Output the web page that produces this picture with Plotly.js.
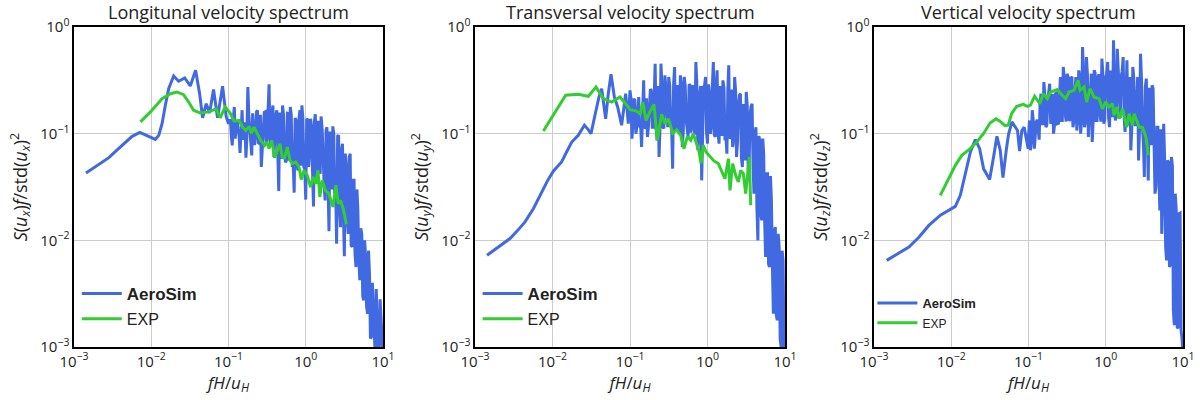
<!DOCTYPE html>
<html>
<head>
<meta charset="utf-8">
<script src="https://cdn.plot.ly/plotly-3.0.1.min.js"></script>
<style>html,body{margin:0;padding:0;background:#fff;}#chart{width:1200px;height:400px;}</style>
</head>
<body>
<div id="chart"></div>
<script>
// ---------- data ----------
const panelTitles = ['Longitunal velocity spectrum', 'Transversal velocity spectrum', 'Vertical velocity spectrum'];
const tickVals = [0.001, 0.01, 0.1, 1, 10];
const tickTextX = ['10<sup>\u22123</sup>', '10<sup>\u22122</sup>', '10<sup>\u22121</sup>', '10<sup>0</sup>', '10<sup>1</sup>'];
const tickValsY = [0.001, 0.01, 0.1, 1];
const tickTextY = ['10<sup>\u22123</sup>', '10<sup>\u22122</sup>', '10<sup>\u22121</sup>', '10<sup>0</sup>'];
const seriesNames = ['<b>AeroSim</b>', 'EXP'];

// frequency bins of the high-frequency (noisy) part, shared by the three spectra
const fGrid = [0.1, 0.106, 0.112, 0.119, 0.126, 0.133, 0.141, 0.150, 0.158, 0.168,
  0.178, 0.188, 0.200, 0.211, 0.224, 0.237, 0.251, 0.266, 0.282, 0.299,
  0.316, 0.335, 0.355, 0.376, 0.398, 0.422, 0.447, 0.473, 0.501, 0.531,
  0.562, 0.596, 0.631, 0.668, 0.708, 0.750, 0.794, 0.841, 0.891, 0.944,
  1.0, 1.06, 1.12, 1.19, 1.26, 1.33, 1.41, 1.50, 1.58, 1.68,
  1.78, 1.88, 2.00, 2.11, 2.24, 2.37, 2.51, 2.66, 2.82, 2.99,
  3.16, 3.35, 3.55, 3.76, 3.98, 4.22, 4.47, 4.73, 5.01, 5.31,
  5.62, 5.96, 6.31, 6.68, 7.08, 7.50, 7.94, 8.41, 8.91, 9.44, 10.0];
// in-between bins
const fGridMid = [0.1029, 0.1090, 0.1155, 0.1223, 0.1296, 0.1373, 0.1454, 0.1540, 0.1631, 0.1728,
  0.1831, 0.1939, 0.2054, 0.2176, 0.2305, 0.2442, 0.2587, 0.2738, 0.2901, 0.3073,
  0.3255, 0.3449, 0.3652, 0.3870, 0.4100, 0.4341, 0.4600, 0.4870, 0.5160, 0.5465,
  0.5790, 0.6130, 0.6494, 0.6880, 0.7290, 0.7720, 0.8180, 0.8660, 0.9173, 0.9716,
  1.029, 1.090, 1.155, 1.223, 1.296, 1.373, 1.454, 1.540, 1.631, 1.728,
  1.831, 1.939, 2.054, 2.176, 2.305, 2.442, 2.587, 2.738, 2.901, 3.073,
  3.255, 3.449, 3.652, 3.870, 4.100, 4.341, 4.600, 4.870, 5.160, 5.465,
  5.790, 6.130, 6.494, 6.880, 7.290, 7.720, 8.180, 8.660, 9.173, 9.716];

// Longitudinal
const longLowF = [0.00143, 0.0020, 0.00283, 0.00356, 0.00442, 0.00566, 0.00711, 0.00884, 0.0113, 0.0125,
  0.0138, 0.0152, 0.0168, 0.0195, 0.0226, 0.0271, 0.0320, 0.0375, 0.0423, 0.0462,
  0.0515, 0.0569, 0.0640, 0.0721, 0.0838, 0.0933];
const longLowS = [0.0428, 0.0505, 0.0596, 0.0698, 0.0806, 0.0944, 0.103, 0.0964, 0.0885, 0.0964,
  0.124, 0.184, 0.264, 0.347, 0.310, 0.333, 0.280, 0.393, 0.237, 0.141,
  0.191, 0.156, 0.259, 0.141, 0.278, 0.145];
const longGridS = [0.124, 0.133, 0.0777, 0.178, 0.124, 0.115, 0.0659, 0.166, 0.0931, 0.0596,
  0.274, 0.115, 0.0626, 0.115, 0.0931, 0.166, 0.0806, 0.0487, 0.115, 0.160,
  0.0931, 0.290, 0.0835, 0.184, 0.115, 0.166, 0.0290, 0.133, 0.184, 0.0649,
  0.0562, 0.154, 0.178, 0.0487, 0.0280, 0.133, 0.0453, 0.166, 0.184, 0.0487,
  0.0241, 0.138, 0.0649, 0.115, 0.0208, 0.152, 0.0340, 0.100, 0.145, 0.0487,
  0.0237, 0.115, 0.0122, 0.0806, 0.117, 0.0274, 0.0093, 0.0965, 0.0133, 0.0806,
  0.00708, 0.0487, 0.0115, 0.0649, 0.00866, 0.0365, 0.00562, 0.0191, 0.00422, 0.0115,
  0.00274, 0.00698, 0.00205, 0.00487, 0.00124, 0.00191, 0.00081, 0.00178, 0.00081, 0.00166, 0.0008];
const longMidS = [0.133, 0.0931, 0.140, 0.0900, 0.130, 0.0950, 0.135, 0.0880, 0.128, 0.0900,
  0.150, 0.0806, 0.155, 0.0780, 0.160, 0.0820, 0.150, 0.0760, 0.158, 0.0800,
  0.152, 0.0780, 0.155, 0.0600, 0.150, 0.0562, 0.158, 0.0580, 0.150, 0.0540,
  0.155, 0.0562, 0.150, 0.0520, 0.140, 0.0487, 0.138, 0.0500, 0.142, 0.0470,
  0.135, 0.0487, 0.138, 0.0460, 0.130, 0.0450, 0.132, 0.0420, 0.110, 0.0340,
  0.107, 0.0316, 0.105, 0.0300, 0.100, 0.0290, 0.095, 0.0200, 0.0700, 0.0178,
  0.0650, 0.0160, 0.0600, 0.0090, 0.0365, 0.0075, 0.0300, 0.0065, 0.0130, 0.0030,
  0.0100, 0.0024, 0.0080, 0.0012, 0.0040, 0.0009, 0.0035, 0.0008, 0.0028, 0.0008];
const longExpF = [0.00724, 0.00975, 0.0138, 0.0177, 0.0215, 0.0262, 0.0305, 0.0353, 0.0431, 0.0552,
  0.0693, 0.078, 0.0905, 0.105, 0.118, 0.137, 0.152, 0.167, 0.185, 0.198,
  0.214, 0.237, 0.261, 0.294, 0.313, 0.335, 0.362, 0.396, 0.429, 0.464,
  0.497, 0.533, 0.577, 0.625, 0.670, 0.740, 0.817, 0.875, 0.947, 1.045,
  1.154, 1.25, 1.34, 1.44, 1.52, 1.63, 1.80, 1.99, 2.26, 2.45,
  2.63, 2.82, 3.05, 3.36];
const longExpS = [0.129, 0.160, 0.213, 0.237, 0.246, 0.232, 0.198, 0.166, 0.156, 0.160,
  0.171, 0.141, 0.178, 0.156, 0.131, 0.133, 0.115, 0.107, 0.117, 0.101,
  0.115, 0.101, 0.0866, 0.0777, 0.0835, 0.0724, 0.0866, 0.0596, 0.0698, 0.0806,
  0.0604, 0.0596, 0.075, 0.0562, 0.0524, 0.0543, 0.0487, 0.0371, 0.0453, 0.0407,
  0.0316, 0.0393, 0.0340, 0.0453, 0.0255, 0.0365, 0.0294, 0.0274, 0.0205, 0.0328,
  0.0221, 0.0237, 0.0198, 0.0141];

// Transversal
const transLowF = [0.00143, 0.0020, 0.00283, 0.00356, 0.00442, 0.00566, 0.00711, 0.00867, 0.0103, 0.0131,
  0.0152, 0.0177, 0.0215, 0.0258, 0.0284, 0.0314, 0.0353, 0.0398, 0.0431, 0.0485,
  0.0525, 0.0569, 0.0628, 0.0693, 0.078, 0.0879, 0.0951];
const transLowS = [0.00724, 0.00866, 0.0104, 0.0124, 0.0149, 0.0198, 0.0274, 0.0365, 0.0447, 0.0543,
  0.0673, 0.0835, 0.0965, 0.120, 0.111, 0.100, 0.149, 0.221, 0.264, 0.138,
  0.237, 0.360, 0.221, 0.178, 0.120, 0.237, 0.124];
const transGridS = [0.255, 0.0898, 0.213, 0.100, 0.191, 0.115, 0.075, 0.316, 0.115, 0.0931,
  0.178, 0.255, 0.115, 0.453, 0.0866, 0.0604, 0.453, 0.115, 0.352, 0.133,
  0.340, 0.124, 0.0470, 0.422, 0.154, 0.115, 0.352, 0.075, 0.340, 0.133,
  0.0931, 0.284, 0.154, 0.115, 0.470, 0.0698, 0.237, 0.0365, 0.274, 0.340,
  0.0806, 0.237, 0.115, 0.470, 0.0931, 0.392, 0.0806, 0.237, 0.316, 0.0866,
  0.0649, 0.437, 0.0931, 0.075, 0.340, 0.0604, 0.191, 0.237, 0.0487, 0.166,
  0.246, 0.0453, 0.154, 0.191, 0.0274, 0.115, 0.0100, 0.0866, 0.0154, 0.0649,
  0.00698, 0.0422, 0.00562, 0.0237, 0.00205, 0.0133, 0.00178, 0.00866, 0.00100, 0.00649, 0.00081];
const transMidS = [0.213, 0.120, 0.205, 0.115, 0.220, 0.118, 0.210, 0.112, 0.215, 0.115,
  0.260, 0.115, 0.270, 0.110, 0.280, 0.115, 0.270, 0.112, 0.275, 0.115,
  0.280, 0.110, 0.290, 0.105, 0.285, 0.100, 0.290, 0.105, 0.280, 0.100,
  0.290, 0.102, 0.285, 0.098, 0.290, 0.100, 0.280, 0.100, 0.285, 0.105,
  0.290, 0.100, 0.280, 0.098, 0.285, 0.100, 0.280, 0.095, 0.270, 0.095,
  0.265, 0.090, 0.260, 0.088, 0.250, 0.085, 0.230, 0.0600, 0.190, 0.0562,
  0.185, 0.0540, 0.180, 0.0500, 0.100, 0.0200, 0.095, 0.0178, 0.090, 0.0150,
  0.0422, 0.0060, 0.0400, 0.0056, 0.0120, 0.0020, 0.0115, 0.0012, 0.0080, 0.0009];
const transExpF = [0.00762, 0.0108, 0.0148, 0.0215, 0.0290, 0.0364, 0.0453, 0.0580, 0.0743, 0.0951,
  0.1, 0.122, 0.135, 0.146, 0.161, 0.181, 0.204, 0.225, 0.256, 0.283,
  0.313, 0.356, 0.400, 0.451, 0.498, 0.550, 0.607, 0.656, 0.724, 0.776,
  0.824, 0.883, 0.957, 1.08, 1.21, 1.38, 1.52, 1.68, 1.86, 1.95,
  2.11, 2.33, 2.50, 2.68, 2.90, 3.11, 3.47, 3.61];
const transExpS = [0.106, 0.160, 0.229, 0.234, 0.224, 0.274, 0.213, 0.198, 0.221, 0.178,
  0.168, 0.163, 0.152, 0.198, 0.133, 0.160, 0.188, 0.0866, 0.152, 0.124,
  0.138, 0.101, 0.109, 0.0965, 0.0724, 0.0944, 0.0866, 0.100, 0.0806, 0.0688,
  0.0524, 0.0777, 0.0673, 0.0604, 0.0555, 0.0524, 0.0453, 0.0378, 0.0583, 0.0294,
  0.0524, 0.0398, 0.0352, 0.0453, 0.0422, 0.0274, 0.0604, 0.0213];

// Vertical
const vertLowF = [0.00146, 0.0020, 0.00283, 0.00381, 0.00513, 0.00724, 0.00929, 0.0113, 0.0131, 0.0152,
  0.0177, 0.0205, 0.0233, 0.0262, 0.0314, 0.0353, 0.0390, 0.0431, 0.0467, 0.0515,
  0.0552, 0.0610, 0.0673, 0.0721, 0.0766, 0.082, 0.0879, 0.0933, 0.099];
const vertLowS = [0.00649, 0.0075, 0.00866, 0.0107, 0.0138, 0.0172, 0.0191, 0.0208, 0.0264, 0.0407,
  0.0673, 0.0879, 0.0723, 0.0470, 0.0371, 0.0604, 0.0944, 0.0698, 0.0387, 0.0698,
  0.0986, 0.129, 0.115, 0.107, 0.0688, 0.107, 0.115, 0.0931, 0.0724];
const vertGridS = [0.0931, 0.0698, 0.166, 0.0724, 0.129, 0.115, 0.191, 0.124, 0.305, 0.115,
  0.205, 0.294, 0.133, 0.100, 0.237, 0.124, 0.205, 0.133, 0.422, 0.154,
  0.365, 0.133, 0.340, 0.115, 0.237, 0.107, 0.392, 0.100, 0.649, 0.115,
  0.523, 0.0931, 0.237, 0.0835, 0.392, 0.133, 0.340, 0.154, 0.505, 0.124,
  0.340, 0.470, 0.115, 0.274, 0.750, 0.133, 0.626, 0.166, 0.340, 0.523,
  0.104, 0.487, 0.133, 0.0698, 0.422, 0.124, 0.237, 0.0562, 0.562, 0.115,
  0.0393, 0.328, 0.0365, 0.237, 0.284, 0.0453, 0.0316, 0.115, 0.0191, 0.0115,
  0.124, 0.00866, 0.0562, 0.00562, 0.0604, 0.00221, 0.0274, 0.00154, 0.0178, 0.00143, 0.00081];
const vertMidS = [0.133, 0.087, 0.130, 0.090, 0.135, 0.088, 0.237, 0.124, 0.230, 0.120,
  0.240, 0.124, 0.235, 0.122, 0.240, 0.125, 0.340, 0.133, 0.330, 0.130,
  0.340, 0.135, 0.335, 0.130, 0.340, 0.133, 0.345, 0.133, 0.365, 0.130,
  0.360, 0.133, 0.365, 0.135, 0.370, 0.133, 0.360, 0.130, 0.365, 0.135,
  0.365, 0.140, 0.390, 0.143, 0.380, 0.145, 0.390, 0.140, 0.385, 0.143,
  0.390, 0.120, 0.340, 0.115, 0.335, 0.118, 0.340, 0.112, 0.330, 0.0806,
  0.274, 0.0800, 0.270, 0.0780, 0.265, 0.0274, 0.115, 0.0270, 0.110, 0.0260,
  0.0562, 0.0065, 0.0540, 0.0060, 0.0500, 0.0016, 0.0191, 0.0015, 0.0180, 0.0012];
const vertExpF = [0.00721, 0.00925, 0.0113, 0.0137, 0.0176, 0.0214, 0.0261, 0.0318, 0.0379, 0.0427,
  0.0495, 0.0547, 0.0604, 0.070, 0.0853, 0.097, 0.106, 0.120, 0.140, 0.155,
  0.175, 0.193, 0.236, 0.274, 0.303, 0.334, 0.388, 0.438, 0.465, 0.524,
  0.567, 0.626, 0.705, 0.819, 0.906, 1.0, 1.10, 1.22, 1.28, 1.39,
  1.49, 1.65, 1.87, 2.01, 2.22, 2.33, 2.71, 2.99, 3.31, 3.55];
const vertExpS = [0.0264, 0.0378, 0.0505, 0.0626, 0.0724, 0.0835, 0.100, 0.126, 0.138, 0.131,
  0.119, 0.120, 0.154, 0.180, 0.188, 0.180, 0.185, 0.224, 0.191, 0.237,
  0.213, 0.246, 0.259, 0.229, 0.213, 0.246, 0.255, 0.316, 0.255, 0.274,
  0.198, 0.264, 0.221, 0.213, 0.171, 0.198, 0.178, 0.191, 0.149, 0.178,
  0.138, 0.171, 0.115, 0.154, 0.120, 0.154, 0.115, 0.115, 0.0931, 0.0626];

// ---------- figure ----------
const BLUE = '#4169e1', GREEN = '#32cd32';
const panels = [
  {lowF: longLowF, lowS: longLowS, gridS: longGridS, midS: longMidS, expF: longExpF, expS: longExpS, sub: 'x'},
  {lowF: transLowF, lowS: transLowS, gridS: transGridS, midS: transMidS, expF: transExpF, expS: transExpS, sub: 'y'},
  {lowF: vertLowF, lowS: vertLowS, gridS: vertGridS, midS: vertMidS, expF: vertExpF, expS: vertExpS, sub: 'z'}
];
const xDomains = [[74/1200, 383/1200], [475/1200, 785/1200], [874/1200, 1183/1200]];
const yDomain = [53/400, 373/400];
const legendPos = [[0.064, 0.31], [0.398, 0.31], [0.727, 0.28]];
const legendFont = [[17, 16], [17, 16], [13, 12]];

// merge the two sets of bins in frequency order
function mergeBins(gridS, midS) {
  const fx = [], sy = [];
  for (let k = 0; k < fGrid.length; k++) {
    fx.push(fGrid[k]); sy.push(gridS[k]);
    if (k < fGridMid.length) { fx.push(fGridMid[k]); sy.push(midS[k]); }
  }
  return [fx, sy];
}

const traces = [];
const layout = {
  width: 1200, height: 400,
  margin: {l: 0, r: 0, t: 0, b: 0},
  paper_bgcolor: '#fff', plot_bgcolor: '#fff',
  showlegend: true,
  annotations: [],
  font: {family: 'Open Sans, DejaVu Sans, sans-serif', color: '#222'}
};

panels.forEach((p, i) => {
  const n = i === 0 ? '' : String(i + 1);
  const lg = i === 0 ? 'legend' : 'legend' + (i + 1);
  const [hx, hy] = mergeBins(p.gridS, p.midS);
  traces.push({
    x: p.lowF.concat(hx), y: p.lowS.concat(hy),
    xaxis: 'x' + n, yaxis: 'y' + n, type: 'scatter', mode: 'lines',
    name: seriesNames[0], legend: lg,
    line: {color: BLUE, width: 3}
  });
  traces.push({
    x: p.expF, y: p.expS,
    xaxis: 'x' + n, yaxis: 'y' + n, type: 'scatter', mode: 'lines',
    name: '<span style="font-size:' + legendFont[i][1] + 'px">' + seriesNames[1] + '</span>', legend: lg,
    line: {color: GREEN, width: 3}
  });
  const s = p.sub;
  layout['xaxis' + n] = {
    domain: xDomains[i], anchor: 'y' + n, type: 'log', range: [-3, 1],
    tickmode: 'array', tickvals: tickVals, ticktext: tickTextX,
    showgrid: true, gridcolor: '#cccccc', gridwidth: 1,
    showline: true, mirror: true, linecolor: '#000', linewidth: 1.6,
    ticks: '', zeroline: false,
    tickfont: {size: 15, color: '#222'},
    title: {text: '<i>fH</i>/<i>u</i><sub><i>H</i></sub>', font: {size: 17, color: '#222'}, standoff: 4}
  };
  layout['yaxis' + n] = {
    domain: yDomain, anchor: 'x' + n, type: 'log', range: [-3, 0],
    tickmode: 'array', tickvals: tickValsY, ticktext: tickTextY,
    showgrid: true, gridcolor: '#cccccc', gridwidth: 1,
    showline: true, mirror: true, linecolor: '#000', linewidth: 1.6,
    ticks: '', zeroline: false,
    tickfont: {size: 15, color: '#222'},
    title: {text: '<i>S</i>(<i>u</i><sub><i>' + s + '</i></sub>)<i>f</i>/std(<i>u</i><sub><i>' + s + '</i></sub>)<sup>2</sup>',
            font: {size: 18, color: '#222'}, standoff: 8}
  };
  layout[lg] = {
    x: legendPos[i][0], y: legendPos[i][1], xanchor: 'left', yanchor: 'top',
    bgcolor: 'rgba(0,0,0,0)', borderwidth: 0,
    font: {size: legendFont[i][0], family: 'Liberation Sans, Arial, sans-serif', color: '#222'},
    itemwidth: 40,
    tracegroupgap: 0
  };
  layout.annotations.push({
    text: panelTitles[i], xref: 'paper', yref: 'paper',
    x: (xDomains[i][0] + xDomains[i][1]) / 2, y: 1 - 12/400,
    xanchor: 'center', yanchor: 'middle', showarrow: false,
    font: {size: 18, family: 'Open Sans, sans-serif', color: '#222'}
  });
});

Plotly.newPlot('chart', traces, layout, {staticPlot: true, displayModeBar: false});
</script>
</body>
</html>
